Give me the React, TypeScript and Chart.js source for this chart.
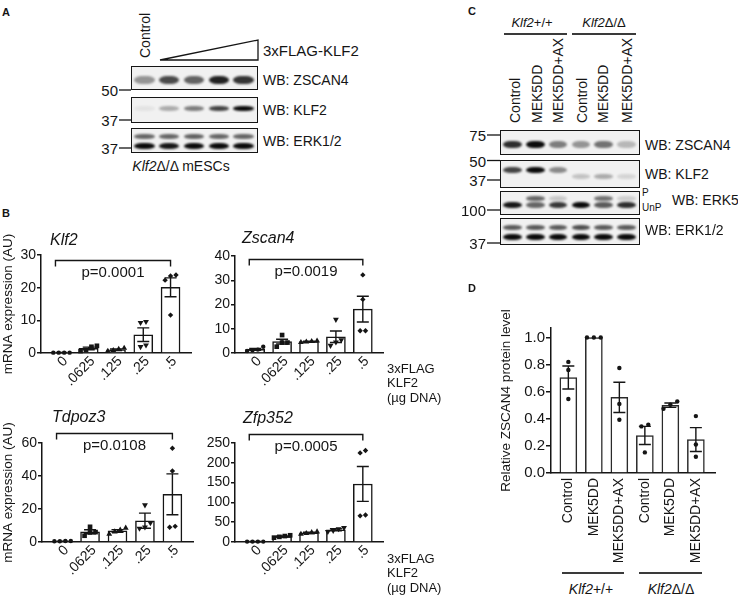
import React, { useEffect, useRef } from 'react';
import { Chart, registerables } from 'chart.js';

Chart.register(...registerables);

const FONT = '"Liberation Sans", Arial, Helvetica, sans-serif';
const INK = '#151515';
Chart.defaults.font.family = FONT;
Chart.defaults.color = INK;

// ---------------- Panel B data ----------------
const doseLabels = ['0', '.0625', '.125', '.25', '.5'];

const klf2Means = [0.1, 1.4, 1.0, 5.6, 20.1];
const klf2Sems = [0.05, 0.4, 0.25, 2.1, 2.9];
const klf2Points = [
  [0.1, 0.1, 0.1, 0.1],
  [2.2, 1.9, 0.9, 0.6],
  [1.5, 1.2, 0.8, 0.6],
  [9.6, 9.3, 2.4, 1.9],
  [23.6, 22.3, 23.9, 11.6],
];
const klf2Ticks = [0, 10, 20, 30];

const zscan4Means = [1.5, 4.7, 4.7, 6.7, 18.1];
const zscan4Sems = [0.4, 1.0, 0.15, 2.4, 5.3];
const zscan4Points = [
  [0.8, 1.1, 1.4, 2.6],
  [7.4, 4.3, 4.3, 2.6],
  [5.0, 4.8, 4.6, 4.4],
  [13.8, 5.4, 4.5, 3.1],
  [32.2, 22.1, 9.2, 9.2],
];
const zscan4Ticks = [0, 10, 20, 30, 40];

const tdpoz3Means = [0.5, 6.2, 6.7, 12.9, 28.9];
const tdpoz3Sems = [0.05, 1.2, 0.8, 4.6, 12.4];
const tdpoz3Points = [
  [0.5, 0.5, 0.6, 0.6],
  [9.2, 6.0, 5.8, 3.8],
  [8.5, 7.3, 6.2, 4.8],
  [22.4, 11.6, 9.0, 8.2],
  [56.8, 43.0, 8.9, 9.5],
];
const tdpoz3Ticks = [0, 20, 40, 60];

const zfp352Means = [1, 14, 23, 31, 146.5];
const zfp352Sems = [0.2, 1.5, 1.5, 2.5, 44];
const zfp352Points = [
  [1, 1, 1, 1],
  [17, 15, 13, 11],
  [26, 24, 22, 20],
  [36, 33, 29, 26],
  [231, 225, 66, 68],
];
const zfp352Ticks = [0, 50, 100, 150, 200, 250];

const pValues = ['p=0.0001', 'p=0.0019', 'p=0.0108', 'p=0.0005'];
const bracketLevels = [28.5, 38.6, 66, 273];

// ---------------- Panel D data ----------------
const dLabels = ['Control', 'MEK5DD', 'MEK5DD+AX', 'Control', 'MEK5DD', 'MEK5DD+AX'];
const dMeans = [0.705, 1.0, 0.558, 0.277, 0.5, 0.247];
const dSems = [0.085, 0, 0.112, 0.067, 0.016, 0.088];
const dPoints = [
  [0.82, 0.76, 0.546],
  [1, 1, 1],
  [0.775, 0.51, 0.393],
  [0.356, 0.344, 0.152],
  [0.528, 0.504, 0.474],
  [0.42, 0.21, 0.12],
];
const dTicks = [0, 0.2, 0.4, 0.6, 0.8, 1.0];

// ---------------- Blot band intensities ----------------
const aZscan4 = [0.4, 0.72, 0.62, 0.9, 0.82];
const aKlf2 = [0.06, 0.3, 0.5, 0.75, 1.0];
const aErkUpper = [0.6, 0.6, 0.62, 0.6, 0.6];
const aErkLower = [1.0, 0.95, 1.0, 1.0, 1.0];

const cZscan4 = [0.85, 1.0, 0.5, 0.4, 0.55, 0.25];
const cKlf2 = [0.75, 1.0, 0.45, 0, 0, 0];
const cKlf2Low = [0, 0, 0, 0.2, 0.3, 0.12];
const cErk5P = [0, 0.6, 0.18, 0, 0.55, 0.15];
const cErk5UnP = [0.95, 0.6, 0.8, 1.0, 0.65, 0.85];
const cErk12Upper = [0.65, 0.65, 0.65, 0.7, 0.65, 0.65];
const cErk12Lower = [1.0, 1.0, 1.0, 1.0, 1.0, 1.0];

// ---------------- helpers ----------------
function swarm(vals: number[], thr: number, step: number): number[] {
  const idx = vals.map((_, i) => i).sort((a, b) => vals[a] - vals[b]);
  const off = new Array(vals.length).fill(0);
  let start = 0;
  for (let k = 1; k <= idx.length; k++) {
    if (k === idx.length || vals[idx[k]] - vals[idx[k - 1]] > thr) {
      const n = k - start;
      for (let j = start; j < k; j++) off[idx[j]] = (j - start - (n - 1) / 2) * step;
      start = k;
    }
  }
  return off;
}

type Spec = {
  box: { left: number; top: number; width: number; height: number };
  yWidth: number;
  xHeight: number;
  padTop: number;
  padRight: number;
  labels: string[];
  means: number[];
  sems: number[];
  points: number[][];
  yTicks: number[];
  yMax: number;
  xMin: number;
  xMax: number;
  barWidth: number;
  cap: number;
  yTitle?: string;
  tickSize: number;
  xTickSize: number;
  xRotation: number;
  slant: boolean;
  xPad: number;
  tickLen: number;
  styles: string[];
  radii: number[];
  rotations: number[];
  spreadStep: number;
  spreadThr: number;
  decimals: number;
  barColor: string;
  bracket?: { level: number; from: number; to: number; text: string };
};

function buildConfig(spec: Spec): any {
  const barData = spec.means.map((m, i) => ({ x: i, y: m }));
  const dotData: any[] = [];
  spec.points.forEach((grp, i) => {
    const off = swarm(grp, spec.spreadThr, spec.spreadStep);
    grp.forEach((v, j) => dotData.push({ x: i + off[j], y: v, g: i }));
  });

  const errorBars = {
    id: 'errorBars',
    afterDatasetsDraw(chart: any) {
      const { ctx } = chart;
      const x = chart.scales.x;
      const y = chart.scales.y;
      ctx.save();
      ctx.strokeStyle = INK;
      ctx.lineWidth = 1.4;
      spec.means.forEach((m, i) => {
        const s = spec.sems[i];
        if (!s) return;
        const px = x.getPixelForValue(i);
        const top = y.getPixelForValue(m + s);
        const bot = y.getPixelForValue(Math.max(0, m - s));
        ctx.beginPath();
        ctx.moveTo(px, top);
        ctx.lineTo(px, bot);
        ctx.moveTo(px - spec.cap, top);
        ctx.lineTo(px + spec.cap, top);
        ctx.moveTo(px - spec.cap, bot);
        ctx.lineTo(px + spec.cap, bot);
        ctx.stroke();
      });
      ctx.restore();
    },
  };

  const bracket = {
    id: 'bracket',
    afterDraw(chart: any) {
      const b = spec.bracket;
      if (!b) return;
      const { ctx } = chart;
      const x = chart.scales.x;
      const y = chart.scales.y;
      const py = Math.round(y.getPixelForValue(b.level)) + 0.5;
      const x0 = x.getPixelForValue(b.from);
      const x1 = x.getPixelForValue(b.to);
      ctx.save();
      ctx.strokeStyle = INK;
      ctx.lineWidth = 1.4;
      ctx.beginPath();
      ctx.moveTo(x0, py + 6);
      ctx.lineTo(x0, py);
      ctx.lineTo(x1, py);
      ctx.lineTo(x1, py + 6);
      ctx.stroke();
      ctx.fillStyle = INK;
      ctx.font = `15px ${FONT}`;
      ctx.textAlign = 'center';
      ctx.textBaseline = 'middle';
      ctx.fillText(b.text, (x0 + x1) / 2, py + 12);
      ctx.restore();
    },
  };

  // 45-degree category labels, placed with the x scale
  const slantLabels = {
    id: 'slantLabels',
    afterDraw(chart: any) {
      if (!spec.slant) return;
      const { ctx } = chart;
      const x = chart.scales.x;
      const base = x.top + spec.xPad;
      ctx.save();
      ctx.fillStyle = INK;
      ctx.font = `${spec.xTickSize}px ${FONT}`;
      ctx.textAlign = 'right';
      ctx.textBaseline = 'middle';
      spec.labels.forEach((lab, i) => {
        const px = x.getPixelForValue(i);
        ctx.save();
        ctx.translate(px + 4, base + 4);
        ctx.rotate(-Math.PI / 4);
        ctx.fillText(lab, 0, 0);
        ctx.restore();
      });
      ctx.restore();
    },
  };

  return {
    type: 'bar',
    data: {
      datasets: [
        {
          type: 'bar',
          data: barData,
          backgroundColor: '#ffffff',
          borderColor: spec.barColor,
          borderWidth: 1.5,
          barThickness: spec.barWidth,
          order: 2,
        },
        {
          type: 'scatter',
          data: dotData,
          pointStyle: (c: any) => (c.raw ? spec.styles[c.raw.g] : 'circle'),
          pointRadius: (c: any) => (c.raw ? spec.radii[c.raw.g] : 2),
          pointRotation: (c: any) => (c.raw ? spec.rotations[c.raw.g] : 0),
          backgroundColor: INK,
          borderColor: INK,
          borderWidth: 0,
          clip: false,
          order: 1,
        },
      ],
    },
    options: {
      animation: false,
      responsive: false,
      devicePixelRatio: 1,
      events: [],
      layout: { padding: { left: 0, top: spec.padTop, right: spec.padRight, bottom: 0 } },
      plugins: { legend: { display: false }, tooltip: { enabled: false }, title: { display: false } },
      scales: {
        x: {
          type: 'linear',
          min: spec.xMin,
          max: spec.xMax,
          offset: false,
          afterBuildTicks: (s: any) => {
            s.ticks = spec.labels.map((_, i) => ({ value: i }));
          },
          afterFit: (s: any) => {
            s.height = spec.xHeight;
          },
          ticks: {
            display: !spec.slant,
            autoSkip: false,
            maxRotation: spec.xRotation,
            minRotation: spec.xRotation,
            padding: spec.xPad,
            color: INK,
            font: { size: spec.xTickSize, family: FONT },
            callback: (v: any) => spec.labels[Math.round(Number(v))] ?? '',
          },
          grid: { display: false, drawTicks: false, offset: false },
          border: { display: true, color: INK, width: 1.5 },
        },
        y: {
          type: 'linear',
          min: 0,
          max: spec.yMax,
          afterBuildTicks: (s: any) => {
            s.ticks = spec.yTicks.map((v) => ({ value: v }));
          },
          afterFit: (s: any) => {
            s.width = spec.yWidth;
          },
          ticks: {
            padding: 1,
            color: INK,
            font: { size: spec.tickSize, family: FONT },
            callback: (v: any) => Number(v).toFixed(spec.decimals),
          },
          grid: { drawOnChartArea: false, drawTicks: true, tickLength: spec.tickLen, color: INK, lineWidth: 1.5 },
          border: { display: true, color: INK, width: 1.5 },
          title: spec.yTitle
            ? { display: true, text: spec.yTitle, color: INK, font: { size: 13.5, family: FONT }, padding: 0 }
            : { display: false },
        },
      },
    },
    plugins: [errorBars, bracket, slantLabels],
  };
}

function BarPanel({ spec }: { spec: Spec }) {
  const ref = useRef<HTMLCanvasElement | null>(null);
  useEffect(() => {
    if (!ref.current) return;
    const chart = new Chart(ref.current, buildConfig(spec));
    return () => chart.destroy();
  }, []);
  const { left, top, width, height } = spec.box;
  return (
    <canvas
      ref={ref}
      width={width}
      height={height}
      style={{ position: 'absolute', left, top, width, height }}
    />
  );
}

const bStyles = ['circle', 'rect', 'triangle', 'triangle', 'rectRot'];
const bRadii = [2.2, 3.3, 3.4, 3.4, 2.7];
const bRot = [0, 0, 0, 180, 0];

function bSpec(
  box: Spec['box'],
  yWidth: number,
  padTop: number,
  padRight: number,
  xHeight: number,
  means: number[],
  sems: number[],
  points: number[][],
  yTicks: number[],
  k: number,
  yTitle?: string
): Spec {
  const yMax = yTicks[yTicks.length - 1];
  return {
    box,
    yWidth,
    xHeight,
    padTop,
    padRight,
    labels: doseLabels,
    means,
    sems,
    points,
    yTicks,
    yMax,
    xMin: -0.75,
    xMax: 4.75,
    barWidth: 19,
    cap: 6,
    yTitle,
    tickSize: 14,
    xTickSize: 14,
    xRotation: 45,
    slant: true,
    xPad: 2,
    tickLen: 4,
    styles: bStyles,
    radii: bRadii,
    rotations: bRot,
    spreadStep: 0.2,
    spreadThr: yMax * 0.05,
    decimals: 0,
    barColor: INK,
    bracket: { level: bracketLevels[k], from: -0.22, to: 4, text: pValues[k] },
  };
}

const klf2Spec = bSpec({ left: 0, top: 215, width: 200, height: 180 }, 41, 40, 9, 42, klf2Means, klf2Sems, klf2Points, klf2Ticks, 0, 'mRNA expression (AU)');
const zscan4Spec = bSpec({ left: 205, top: 215, width: 185, height: 180 }, 30, 41, 7, 42, zscan4Means, zscan4Sems, zscan4Points, zscan4Ticks, 1);
const tdpoz3Spec = bSpec({ left: 0, top: 400, width: 200, height: 190 }, 42, 43, 7, 48, tdpoz3Means, tdpoz3Sems, tdpoz3Points, tdpoz3Ticks, 2, 'mRNA expression (AU)');
const zfp352Spec = bSpec({ left: 200, top: 400, width: 190, height: 190 }, 35, 43, 7, 48, zfp352Means, zfp352Sems, zfp352Points, zfp352Ticks, 3);

const dSpec: Spec = {
  box: { left: 498, top: 290, width: 225, height: 283 },
  yWidth: 53,
  xHeight: 100,
  padTop: 38,
  padRight: 8,
  labels: dLabels,
  means: dMeans,
  sems: dSems,
  points: dPoints,
  yTicks: dTicks,
  yMax: 1.07,
  xMin: -0.68,
  xMax: 5.75,
  barWidth: 17,
  cap: 6,
  yTitle: 'Relative ZSCAN4 protein level',
  tickSize: 15,
  xTickSize: 14,
  xRotation: 90,
  slant: false,
  xPad: 5,
  tickLen: 5,
  styles: ['circle', 'circle', 'circle', 'circle', 'circle', 'circle'],
  radii: [2.2, 2.2, 2.2, 2.2, 2.2, 2.2],
  rotations: [0, 0, 0, 0, 0, 0],
  spreadStep: 0.27,
  spreadThr: 0.035,
  decimals: 1,
  barColor: '#2a2a2a',
};

// ---------------- HTML helpers ----------------
type TxtProps = { x: number; y: number; s?: number; a?: 'l' | 'c' | 'r'; b?: boolean; i?: boolean; children: React.ReactNode };
const Txt = ({ x, y, s = 14, a = 'l', b = false, i = false, children }: TxtProps) => (
  <div
    style={{
      position: 'absolute',
      left: x,
      top: y,
      fontSize: s,
      fontWeight: b ? 700 : 400,
      fontStyle: i ? 'italic' : 'normal',
      lineHeight: 1,
      whiteSpace: 'nowrap',
      color: INK,
      transform: `translate(${a === 'l' ? 0 : a === 'c' ? -50 : -100}%, -50%)`,
    }}
  >
    {children}
  </div>
);

const VTxt = ({ x, yb, s = 14, children }: { x: number; yb: number; s?: number; children: React.ReactNode }) => (
  <div
    style={{
      position: 'absolute',
      left: x,
      top: yb,
      fontSize: s,
      lineHeight: 1,
      whiteSpace: 'nowrap',
      color: INK,
      transformOrigin: '0 0',
      transform: 'rotate(-90deg) translate(0, -50%)',
    }}
  >
    {children}
  </div>
);

type Band = { y: number; h: number; v: number[] };
const Blot = ({ x, y, w, h, lanes, bands }: { x: number; y: number; w: number; h: number; lanes: number; bands: Band[] }) => {
  const lw = (w - 3) / lanes;
  return (
    <div
      style={{
        position: 'absolute',
        left: x,
        top: y,
        width: w,
        height: h,
        boxSizing: 'border-box',
        border: `1.5px solid ${INK}`,
        background: '#f1f1f1',
        overflow: 'hidden',
      }}
    >
      {bands.flatMap((b, bi) =>
        b.v.map((v, li) =>
          v > 0 ? (
            <div
              key={`${bi}-${li}`}
              style={{
                position: 'absolute',
                left: lw * li + lw * 0.09,
                top: b.y - b.h / 2,
                width: lw * 0.82,
                height: b.h,
                borderRadius: '40% / 50%',
                background: `rgba(10,10,10,${v})`,
                filter: 'blur(1.1px)',
              }}
            />
          ) : null
        )
      )}
    </div>
  );
};

export default function App() {
  return (
    <div
      style={{
        position: 'absolute',
        left: 0,
        top: 0,
        width: 738,
        height: 596,
        background: '#ffffff',
        fontFamily: FONT,
        color: INK,
        overflow: 'hidden',
        opacity: 0.999,
      }}
    >
      {/* ---------- Panel A ---------- */}
      <Txt x={2} y={11.5} s={11} b>A</Txt>
      <VTxt x={145} yb={58} s={14}>Control</VTxt>
      <Txt x={263} y={50} s={15}>3xFLAG-KLF2</Txt>
      <Blot x={131} y={66} w={127} h={24} lanes={5} bands={[{ y: 13, h: 8, v: aZscan4 }]} />
      <Blot x={131} y={97} w={127} h={26} lanes={5} bands={[{ y: 10, h: 5, v: aKlf2 }]} />
      <Blot x={131} y={128} w={127} h={25} lanes={5} bands={[{ y: 7.5, h: 5, v: aErkUpper }, { y: 16.5, h: 6, v: aErkLower }]} />
      <Txt x={263} y={80} s={14}>WB: ZSCAN4</Txt>
      <Txt x={263} y={110} s={14}>WB: KLF2</Txt>
      <Txt x={263} y={141} s={14}>WB: ERK1/2</Txt>
      <Txt x={118} y={90} s={15} a="r">50</Txt>
      <Txt x={118} y={120} s={15} a="r">37</Txt>
      <Txt x={118} y={148} s={15} a="r">37</Txt>
      <Txt x={181} y={166} s={14} a="c"><i>Klf2</i>Δ/Δ mESCs</Txt>

      {/* ---------- Panel B ---------- */}
      <Txt x={2} y={213} s={11} b>B</Txt>
      <BarPanel spec={klf2Spec} />
      <BarPanel spec={zscan4Spec} />
      <BarPanel spec={tdpoz3Spec} />
      <BarPanel spec={zfp352Spec} />
      <Txt x={50} y={240} s={16} i>Klf2</Txt>
      <Txt x={242} y={238} s={16} i>Zscan4</Txt>
      <Txt x={52} y={417} s={16} i>Tdpoz3</Txt>
      <Txt x={243} y={418} s={16} i>Zfp352</Txt>
      <Txt x={387} y={368} s={13}>3xFLAG</Txt>
      <Txt x={387} y={382} s={13}>KLF2</Txt>
      <Txt x={387} y={397} s={13}>(µg DNA)</Txt>
      <Txt x={387} y={558} s={13}>3xFLAG</Txt>
      <Txt x={387} y={572} s={13}>KLF2</Txt>
      <Txt x={387} y={587} s={13}>(µg DNA)</Txt>

      {/* ---------- Panel C ---------- */}
      <Txt x={468} y={11} s={11} b>C</Txt>
      <Txt x={532} y={22} s={13} a="c"><i>Klf2</i>+/+</Txt>
      <Txt x={604} y={22} s={13} a="c"><i>Klf2</i>Δ/Δ</Txt>
      <VTxt x={515} yb={123} s={14}>Control</VTxt>
      <VTxt x={537} yb={123} s={14}>MEK5DD</VTxt>
      <VTxt x={558} yb={123} s={14}>MEK5DD+AX</VTxt>
      <VTxt x={582} yb={123} s={14}>Control</VTxt>
      <VTxt x={603} yb={123} s={14}>MEK5DD</VTxt>
      <VTxt x={627} yb={123} s={14}>MEK5DD+AX</VTxt>
      <Blot x={500} y={130} w={140} h={25} lanes={6} bands={[{ y: 13.5, h: 7, v: cZscan4 }]} />
      <Blot x={500} y={160} w={140} h={28} lanes={6} bands={[{ y: 9, h: 6, v: cKlf2 }, { y: 15.5, h: 5, v: cKlf2Low }]} />
      <Blot x={500} y={191} w={140} h={24} lanes={6} bands={[{ y: 6.5, h: 5, v: cErk5P }, { y: 13, h: 6, v: cErk5UnP }]} />
      <Blot x={500} y={218} w={140} h={27} lanes={6} bands={[{ y: 8.5, h: 5, v: cErk12Upper }, { y: 17.5, h: 6, v: cErk12Lower }]} />
      <Txt x={645} y={145} s={14}>WB: ZSCAN4</Txt>
      <Txt x={645} y={174} s={14}>WB: KLF2</Txt>
      <Txt x={642} y={193} s={10}>P</Txt>
      <Txt x={642} y={208} s={10}>UnP</Txt>
      <Txt x={672} y={200} s={14}>WB: ERK5</Txt>
      <Txt x={645} y={230} s={14}>WB: ERK1/2</Txt>
      <Txt x={486} y={135} s={15} a="r">75</Txt>
      <Txt x={486} y={160.5} s={15} a="r">50</Txt>
      <Txt x={486} y={180} s={15} a="r">37</Txt>
      <Txt x={486} y={210} s={15} a="r">100</Txt>
      <Txt x={486} y={243} s={15} a="r">37</Txt>

      {/* ---------- Panel D ---------- */}
      <BarPanel spec={dSpec} />
      <Txt x={468} y={288} s={11} b>D</Txt>
      <Txt x={591} y={589} s={14} a="c"><i>Klf2</i>+/+</Txt>
      <Txt x={671} y={589} s={14} a="c"><i>Klf2</i>Δ/Δ</Txt>

      {/* ---------- line work ---------- */}
      <svg width={738} height={596} style={{ position: 'absolute', left: 0, top: 0, pointerEvents: 'none' }}>
        <polygon points="160,60 258,40 258,60" fill="#fff" stroke={INK} strokeWidth={1.3} />
        <g stroke={INK} strokeWidth={1.3}>
          <line x1={119} y1={90} x2={131} y2={90} />
          <line x1={119} y1={120} x2={131} y2={120} />
          <line x1={119} y1={148} x2={131} y2={148} />
          <line x1={487} y1={135} x2={500} y2={135} />
          <line x1={487} y1={160.5} x2={500} y2={160.5} />
          <line x1={487} y1={180} x2={500} y2={180} />
          <line x1={487} y1={210} x2={500} y2={210} />
          <line x1={487} y1={243} x2={500} y2={243} />
        </g>
        <g stroke="#3a3a3a" strokeWidth={1.8}>
          <line x1={504} y1={34} x2={567} y2={34} />
          <line x1={572} y1={34} x2={636} y2={34} />
          <line x1={562} y1={573} x2={624} y2={573} />
          <line x1={639} y1={573} x2={702} y2={573} />
        </g>
      </svg>
    </div>
  );
}
